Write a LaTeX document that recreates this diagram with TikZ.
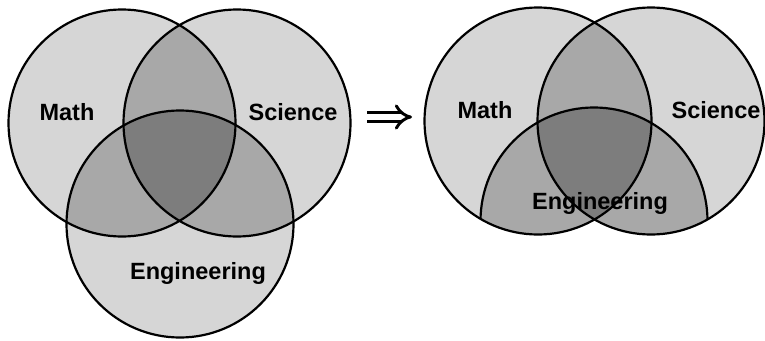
\documentclass[tikz,border=0pt]{standalone}
\usepackage{fontspec}
\setmainfont{Liberation Sans}
\usepackage{tikz}
\usetikzlibrary{arrows}

\definecolor{onegray}{gray}{0.84}
\definecolor{twogray}{gray}{0.66}
\definecolor{threegray}{gray}{0.49}
\newcommand{\vennrad}{113.5pt}

\tikzset{
  vennlabel/.style={font=\fontsize{23.5}{25}\selectfont\bfseries},
  ring/.style={line width=2.2pt, black}
}

\begin{document}
\begin{tikzpicture}[x=1pt,y=-1pt]
\useasboundingbox (0,0) rectangle (765,340);
% left diagram
\coordinate (mathL) at (122,123);
\coordinate (sciL) at (237,123);
\coordinate (engL) at (180,224);
\fill[onegray] (mathL) circle (\vennrad) (sciL) circle (\vennrad) (engL) circle (\vennrad);
\begin{scope}
\clip (mathL) circle (\vennrad);
\fill[twogray] (sciL) circle (\vennrad);
\fill[twogray] (engL) circle (\vennrad);
\end{scope}
\begin{scope}
\clip (sciL) circle (\vennrad);
\fill[twogray] (engL) circle (\vennrad);
\end{scope}
\begin{scope}
\clip (mathL) circle (\vennrad);
\clip (sciL) circle (\vennrad);
\fill[threegray] (engL) circle (\vennrad);
\end{scope}
\draw[ring] (mathL) circle (\vennrad);
\draw[ring] (sciL) circle (\vennrad);
\draw[ring] (engL) circle (\vennrad);
\node[vennlabel] (mathtxtL) at (67,112) {Math};
\node[vennlabel] (scitxtL) at (293,112) {Science};
\node[vennlabel] (engtxtL) at (198,273) {Engineering};

% arrow
\coordinate (arrfrom) at (367,117);
\coordinate (arrto) at (412,117);
\draw[double, double distance=5.5pt, line width=2.9pt, -implies] (arrfrom) -- (arrto);

% right diagram, engineering kept inside math and science
\coordinate (mathR) at (538,121);
\coordinate (sciR) at (651,121);
\coordinate (engR) at (594,221);
\fill[onegray] (mathR) circle (\vennrad) (sciR) circle (\vennrad);
\begin{scope}
\clip (mathR) circle (\vennrad);
\fill[twogray] (sciR) circle (\vennrad);
\end{scope}
\begin{scope}
\clip (mathR) circle (\vennrad) (sciR) circle (\vennrad);
\fill[twogray] (engR) circle (\vennrad);
\end{scope}
\begin{scope}
\clip (mathR) circle (\vennrad);
\clip (sciR) circle (\vennrad);
\fill[threegray] (engR) circle (\vennrad);
\end{scope}
\draw[ring] (mathR) circle (\vennrad);
\draw[ring] (sciR) circle (\vennrad);
\begin{scope}
\clip (mathR) circle (\vennrad) (sciR) circle (\vennrad);
\draw[ring] (engR) circle (\vennrad);
\end{scope}
\node[vennlabel] (mathtxtR) at (485,110) {Math};
\node[vennlabel] (scitxtR) at (716,110) {Science};
\node[vennlabel] (engtxtR) at (600,203) {Engineering};
\end{tikzpicture}
\end{document}
